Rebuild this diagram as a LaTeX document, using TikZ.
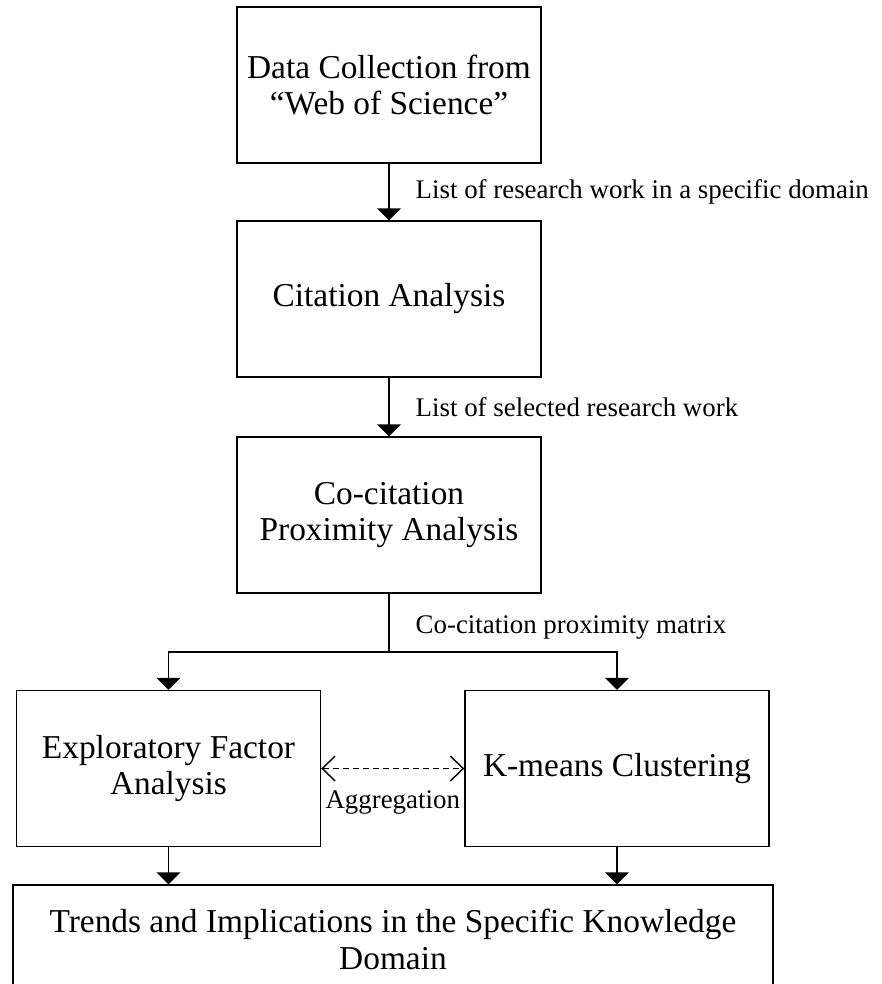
\documentclass[tikz,border=0pt]{standalone}
\usepackage{fontspec}
\setmainfont{Liberation Serif}
\usetikzlibrary{arrows.meta, positioning, calc}

\begin{document}
\begin{tikzpicture}[
    >={Triangle[width=0.48cm,length=0.24cm]},
    line width=0.8pt,
    box/.style={draw, align=center, minimum width=6.08cm, minimum height=3.12cm,
        inner sep=0pt, font=\fontsize{19pt}{21pt}\selectfont},
    lbl/.style={inner sep=0pt, font=\fontsize{15.3pt}{18pt}\selectfont},
    barb/.style={{Straight Barb[length=0.26cm,width=0.5cm]}-{Straight Barb[length=0.26cm,width=0.5cm]}}
]

    \useasboundingbox (0,0) rectangle (17.64,-19.68);

    % Process boxes
    \node[box] (wos) at (7.78,-1.70) {Data Collection from\\“Web of Science”};
    \node[box] (cit) at (7.78,-5.98) {Citation Analysis};
    \node[box] (ccp) at (7.78,-10.30) {Co-citation\\Proximity Analysis};
    \node[box] (efa) at (3.37,-15.37) {Exploratory Factor\\Analysis};
    \node[box] (kmc) at (12.34,-15.37) {K-means Clustering};
    \node[box, minimum width=15.2cm, minimum height=2.16cm] (trend) at (7.86,-18.78)
        {Trends and Implications in the Specific Knowledge\\Domain};

    % Flow down the chain
    \draw[->] (wos) -- (cit) node[lbl, midway, right=0.52cm] {List of research work in a specific domain};
    \draw[->] (cit) -- (ccp) node[lbl, midway, right=0.52cm] {List of selected research work};

    % Split into the two methods
    \coordinate (split) at (7.78,-13.04);
    \draw (ccp) -- (split) node[lbl, midway, right=0.52cm, yshift=-0.1cm] {Co-citation proximity matrix};
    \draw[->] (split) -| (efa);
    \draw[->] (split) -| (kmc);

    % Aggregation link
    \draw[barb, dash pattern=on 0.12cm off 0.08cm] (efa) -- (kmc)
        node[lbl, midway, below=0.42cm] {Aggregation};

    % Into the result
    \draw[->] (efa) -- (efa |- trend.north);
    \draw[->] (kmc) -- (kmc |- trend.north);

\end{tikzpicture}
\end{document}
